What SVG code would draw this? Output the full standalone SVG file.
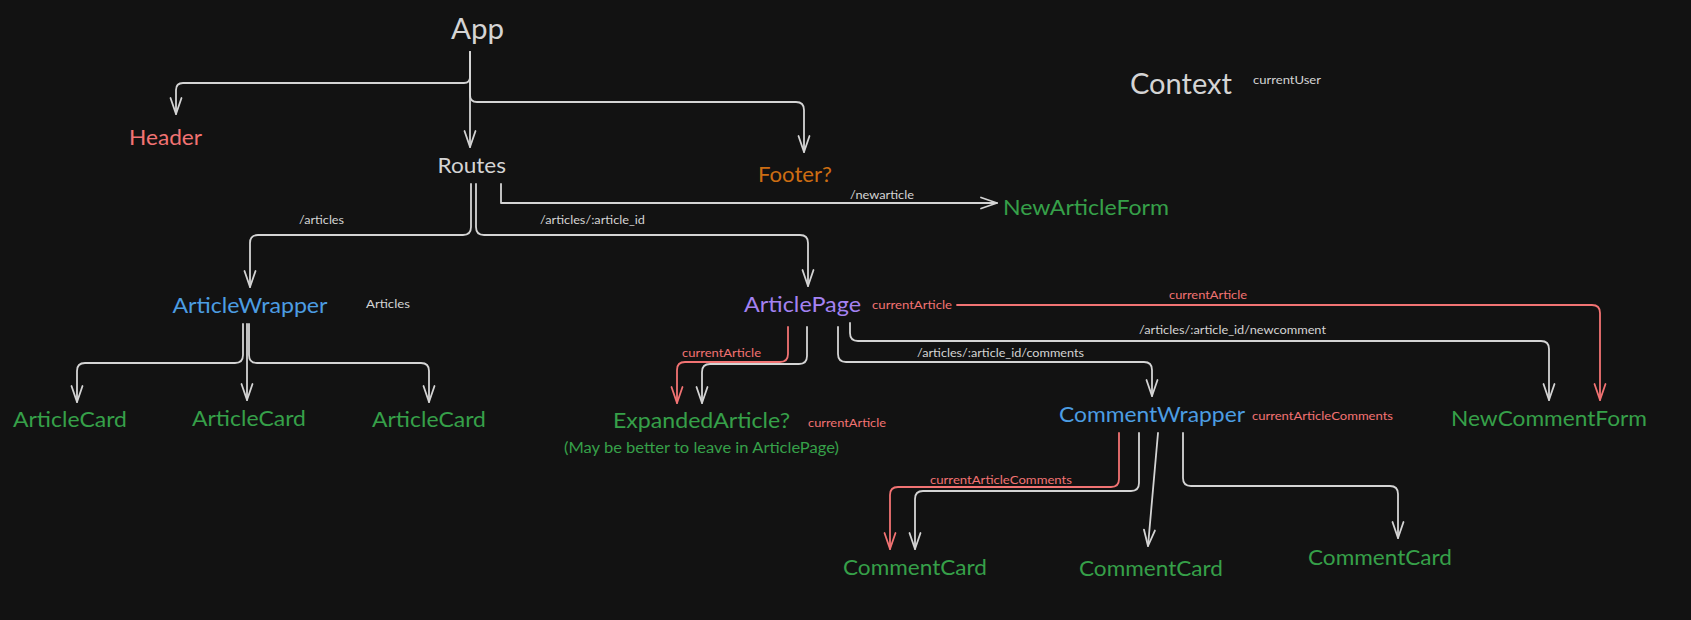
<svg xmlns="http://www.w3.org/2000/svg" width="1691" height="620" viewBox="0 0 1691 620">
<style>
text{font-family:Lato,"Noto Sans","Liberation Sans",sans-serif;}
.big{font-size:28px;fill:#d4d4d4;}
.node{font-size:22px;}
.sm{font-size:12px;fill:#d4d4d4;}
.grey{fill:#d4d4d4;}
.red{fill:#f27373;}
.green{fill:#36a049;}
.blue{fill:#4c9de2;}
.purple{fill:#a482f2;}
.orange{fill:#cc6d12;}
.note{font-size:15.5px;fill:#36a049;}
.c{fill:none;stroke:#d4d4d4;stroke-width:1.8;stroke-linecap:round;stroke-linejoin:round;marker-end:url(#aw);}
.cr{fill:none;stroke:#f27373;stroke-width:1.8;stroke-linecap:round;stroke-linejoin:round;marker-end:url(#ar);}
</style>
<defs>
<marker id="aw" viewBox="-18 -8 20 16" refX="0" refY="0" markerWidth="20" markerHeight="16" markerUnits="userSpaceOnUse" orient="auto">
<path d="M-16,-5.5 L0,0 L-16,5.5" fill="none" stroke="#d4d4d4" stroke-width="1.8" stroke-linecap="round" stroke-linejoin="round"/>
</marker>
<marker id="ar" viewBox="-18 -8 20 16" refX="0" refY="0" markerWidth="20" markerHeight="16" markerUnits="userSpaceOnUse" orient="auto">
<path d="M-16,-5.5 L0,0 L-16,5.5" fill="none" stroke="#f27373" stroke-width="1.8" stroke-linecap="round" stroke-linejoin="round"/>
</marker>
</defs>
<rect width="1691" height="620" fill="#121212"/>
<g id="connectors">
<path class="c" d="M470,52 L470,147"/>
<path class="c" d="M470,52 L470,77 Q470,83 464,83 L183,83 Q176,83 176,90 L176,114"/>
<path class="c" d="M470,52 L470,95 Q470,102 477,102 L796,102 Q804,102 804,110 L804,152"/>
<path class="c" d="M471,184 L471,227 Q471,235 463,235 L258,235 Q250,235 250,243 L250,287"/>
<path class="c" d="M476,184 L476,227 Q476,235 484,235 L800,235 Q808,235 808,243 L808,286"/>
<path class="c" d="M501,184 L501,203 L997,203"/>
<path class="c" d="M243,324 L243,355 Q243,363 235,363 L85,363 Q77,363 77,371 L77,402"/>
<path class="c" d="M247,324 L247,400"/>
<path class="c" d="M249,324 L249,355 Q249,363 257,363 L421,363 Q429,363 429,371 L429,402"/>
<path class="cr" d="M788,327 L788,354 Q788,362 780,362 L685,362 Q677,362 677,370 L677,403"/>
<path class="c" d="M807,327 L807,356 Q807,364 799,364 L710,364 Q702,364 702,372 L702,403"/>
<path class="c" d="M838,327 L838,354 Q838,362 846,362 L1144,362 Q1152,362 1152,370 L1152,396"/>
<path class="c" d="M850,323 L850,333 Q850,341 858,341 L1541,341 Q1549,341 1549,349 L1549,400"/>
<path class="cr" d="M957,305 L1592,305 Q1600,305 1600,313 L1600,400"/>
<path class="cr" d="M1119,433 L1119,479 Q1119,487 1111,487 L898,487 Q890,487 890,495 L890,549"/>
<path class="c" d="M1139,433 L1139,483 Q1139,491 1131,491 L923,491 Q915,491 915,499 L915,549"/>
<path class="c" d="M1158,433 L1148,546"/>
<path class="c" d="M1183,433 L1183,478 Q1183,486 1191,486 L1390,486 Q1398,486 1398,494 L1398,538"/>
<text class="sm" x="850" y="199" textLength="64" lengthAdjust="spacingAndGlyphs">/newarticle</text>
<text class="sm" x="299" y="224" textLength="45" lengthAdjust="spacingAndGlyphs">/articles</text>
<text class="sm" x="540" y="224" textLength="105" lengthAdjust="spacingAndGlyphs">/articles/:article_id</text>
<text class="sm red" x="1169" y="299" textLength="78" lengthAdjust="spacingAndGlyphs">currentArticle</text>
<text class="sm" x="1139" y="334" textLength="187" lengthAdjust="spacingAndGlyphs">/articles/:article_id/newcomment</text>
<text class="sm" x="917" y="357" textLength="167" lengthAdjust="spacingAndGlyphs">/articles/:article_id/comments</text>
<text class="sm red" x="682" y="357" textLength="79" lengthAdjust="spacingAndGlyphs">currentArticle</text>
<text class="sm red" x="930" y="484" textLength="142" lengthAdjust="spacingAndGlyphs">currentArticleComments</text>
</g>
<g id="app"><text class="big" x="451" y="39" textLength="53" lengthAdjust="spacingAndGlyphs">App</text></g>
<g id="context"><text class="big" x="1130" y="94" textLength="102" lengthAdjust="spacingAndGlyphs">Context</text><text class="sm" x="1253" y="84" textLength="68" lengthAdjust="spacingAndGlyphs">currentUser</text></g>
<g id="header"><text class="node red" x="129" y="145" textLength="73" lengthAdjust="spacingAndGlyphs">Header</text></g>
<g id="routes"><text class="node grey" x="437.5" y="173" textLength="68.5" lengthAdjust="spacingAndGlyphs">Routes</text></g>
<g id="footer"><text class="node orange" x="758" y="182" textLength="74" lengthAdjust="spacingAndGlyphs">Footer?</text></g>
<g id="newarticleform"><text class="node green" x="1003" y="215" textLength="166" lengthAdjust="spacingAndGlyphs">NewArticleForm</text></g>
<g id="articlewrapper"><text class="node blue" x="172.5" y="313" textLength="155" lengthAdjust="spacingAndGlyphs">ArticleWrapper</text><text class="sm" x="366" y="308" textLength="44" lengthAdjust="spacingAndGlyphs">Articles</text></g>
<g id="articlepage"><text class="node purple" x="744" y="312" textLength="117" lengthAdjust="spacingAndGlyphs">ArticlePage</text><text class="sm red" x="872" y="309" textLength="80" lengthAdjust="spacingAndGlyphs">currentArticle</text></g>
<g id="articlecard1"><text class="node green" x="13" y="427" textLength="114" lengthAdjust="spacingAndGlyphs">ArticleCard</text></g>
<g id="articlecard2"><text class="node green" x="192" y="426" textLength="114" lengthAdjust="spacingAndGlyphs">ArticleCard</text></g>
<g id="articlecard3"><text class="node green" x="372" y="427" textLength="114" lengthAdjust="spacingAndGlyphs">ArticleCard</text></g>
<g id="expandedarticle"><text class="node green" x="613" y="428" textLength="177" lengthAdjust="spacingAndGlyphs">ExpandedArticle?</text><text class="sm red" x="808" y="427" textLength="78" lengthAdjust="spacingAndGlyphs">currentArticle</text><text class="note" x="564" y="453" textLength="275" lengthAdjust="spacingAndGlyphs">(May be better to leave in ArticlePage)</text></g>
<g id="commentwrapper"><text class="node blue" x="1059" y="422" textLength="186" lengthAdjust="spacingAndGlyphs">CommentWrapper</text><text class="sm red" x="1252" y="420" textLength="141" lengthAdjust="spacingAndGlyphs">currentArticleComments</text></g>
<g id="newcommentform"><text class="node green" x="1451" y="426" textLength="196" lengthAdjust="spacingAndGlyphs">NewCommentForm</text></g>
<g id="commentcard1"><text class="node green" x="843" y="575" textLength="144" lengthAdjust="spacingAndGlyphs">CommentCard</text></g>
<g id="commentcard2"><text class="node green" x="1079" y="576" textLength="144" lengthAdjust="spacingAndGlyphs">CommentCard</text></g>
<g id="commentcard3"><text class="node green" x="1308" y="565" textLength="144" lengthAdjust="spacingAndGlyphs">CommentCard</text></g>
</svg>
